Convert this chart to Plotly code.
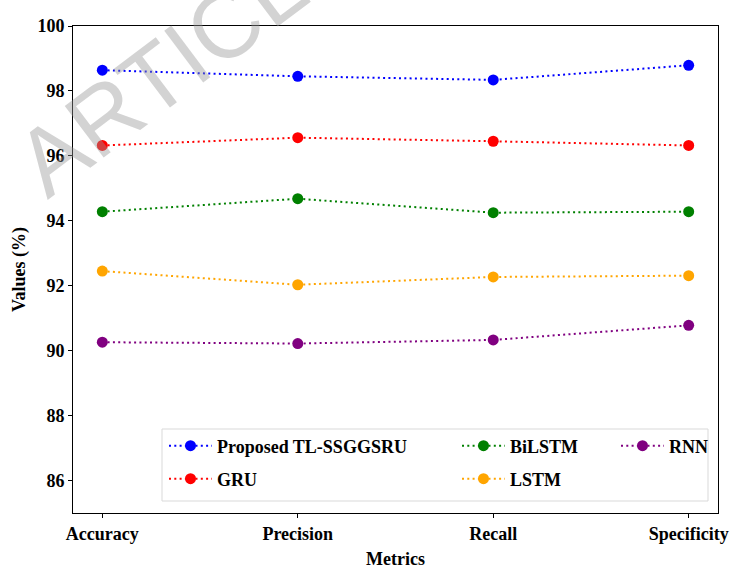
import plotly.graph_objects as go

metrics = ["Accuracy", "Precision", "Recall", "Specificity"]
proposed = [98.64, 98.45, 98.34, 98.79]
gru = [96.32, 96.56, 96.45, 96.32]
bilstm = [94.28, 94.68, 94.25, 94.28]
lstm = [92.45, 92.03, 92.27, 92.31]
rnn = [90.26, 90.22, 90.33, 90.78]

names = ["Proposed TL-SSGGSRU", "GRU", "BiLSTM", "LSTM", "RNN"]
series = [proposed, gru, bilstm, lstm, rnn]
colors = ["#0000FF", "#FF0000", "#008000", "#FFA500", "#800080"]
legends = ["legend", "legend2", "legend3", "legend4", "legend5"]

W, H = 732, 569
L, R, T, B = 73, 14, 26, 56
PW, PH = W - L - R, H - T - B

def px(x):
    return (x - L) / PW

def py(y):
    return (H - B - y) / PH

FONT = dict(family="Liberation Serif, Times New Roman, serif", size=18, color="black", weight="bold")

fig = go.Figure()
for name, vals, col, lg in zip(names, series, colors, legends):
    fig.add_trace(go.Scatter(
        x=metrics, y=vals, name=name, mode="lines+markers",
        line=dict(color=col, width=2, dash="2px,3.3px"),
        marker=dict(color=col, size=11, symbol="circle"),
        legend=lg,
    ))

# legend item positions in pixels
leg_pos = [(164, 446), (164, 479), (457, 446), (457, 479), (616, 446)]
layout_legends = {}
for lg, (lx, ly) in zip(legends, leg_pos):
    layout_legends[lg] = dict(
        x=px(lx), y=py(ly), xanchor="left", yanchor="middle",
        bgcolor="rgba(0,0,0,0)", borderwidth=0, font=FONT,
        itemwidth=43, xref="paper", yref="paper",
    )

fig.update_layout(
    width=W, height=H,
    margin=dict(l=L, r=R, t=T, b=B, autoexpand=False),
    paper_bgcolor="white", plot_bgcolor="white",
    font=FONT,
    showlegend=True,
    **layout_legends,
)

fig.update_xaxes(
    range=[-0.15, 3.15], type="category", automargin=False,
    showline=True, linecolor="black", linewidth=1, mirror=True,
    ticks="outside", ticklen=4, tickwidth=1, tickcolor="black",
    showgrid=False, zeroline=False,
    tickfont=FONT,
    title=dict(text="Metrics", font=FONT, standoff=9),
)
fig.update_yaxes(
    range=[85, 100], tickvals=[86, 88, 90, 92, 94, 96, 98, 100], automargin=False,
    showline=True, linecolor="black", linewidth=1, mirror=True,
    ticks="outside", ticklen=4, tickwidth=1, tickcolor="black",
    showgrid=False, zeroline=False,
    tickfont=FONT,
    title=dict(text="Values (%)", font=FONT, standoff=7),
)

# legend frame
fig.add_shape(
    type="rect", xref="paper", yref="paper",
    x0=px(162), x1=px(708), y0=py(501), y1=py(429),
    line=dict(color="#d9d9d9", width=1), fillcolor="rgba(255,255,255,0.8)",
    layer="below",
)

# watermark
fig.add_annotation(
    text="ARTICLE", xref="paper", yref="paper",
    x=px(185), y=py(55), xanchor="center", yanchor="middle",
    showarrow=False, textangle=-37,
    font=dict(family="Liberation Sans, Arial, sans-serif", size=94,
              color="rgba(150,150,150,0.42)", weight="normal"),
)

fig.write_html("out.html")
